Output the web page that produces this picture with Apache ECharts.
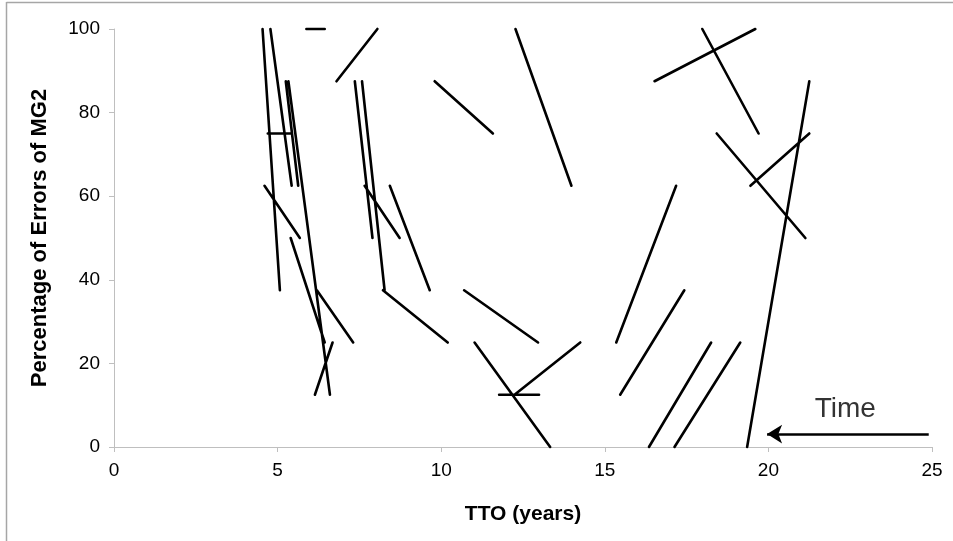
<!DOCTYPE html>
<html>
<head>
<meta charset="utf-8">
<script src="https://cdn.jsdelivr.net/npm/echarts@6/dist/echarts.min.js"></script>
<style>
  html, body { margin: 0; padding: 0; background: #fff; }
  #chart { width: 953px; height: 541px; }
</style>
</head>
<body>
<div id="chart"></div>
<script>
// Segment data (TTO years, % errors): start and end points
const startX = [4.54, 4.78, 5.25, 5.33, 4.70, 5.88, 6.80, 7.36, 7.58, 8.22, 4.60, 7.66, 8.43, 5.40, 6.20, 6.14,
                9.80, 12.27, 10.70, 11.02, 11.77, 12.24, 16.52, 17.98, 18.42, 19.45, 19.35, 15.35, 15.47, 16.35, 17.13];
const startY = [100, 100, 87.5, 87.5, 75, 100, 87.5, 87.5, 87.5, 37.5, 62.5, 62.5, 62.5, 50, 37.5, 12.5,
                87.5, 100, 37.5, 25, 12.5, 12.5, 87.5, 100, 75, 62.5, 0, 25, 12.5, 0, 0];
const endX   = [5.07, 5.43, 5.63, 6.60, 5.42, 6.44, 8.05, 7.90, 8.27, 10.20, 5.68, 8.73, 9.65, 6.44, 7.31, 6.68,
                11.58, 13.98, 12.96, 13.33, 12.99, 14.25, 19.60, 19.70, 21.13, 21.25, 21.25, 17.18, 17.43, 18.25, 19.14];
const endY   = [37.5, 62.5, 62.5, 12.5, 75, 100, 100, 50, 37.5, 25, 50, 50, 37.5, 25, 25, 25,
                75, 62.5, 25, 0, 12.5, 25, 100, 75, 50, 75, 87.5, 62.5, 37.5, 25, 25];

// Annotation: "Time" arrow
const arrowFrom = [24.9, 3.1];
const arrowTo = [19.96, 3.1];
const arrowLabel = 'Time';
const arrowLabelPos = [22.35, 9.0];

const xTicks = { min: 0, max: 25, interval: 5 };
const yTicks = { min: 0, max: 100, interval: 20 };

const segData = [];
for (let i = 0; i < startX.length; i++) {
  segData.push([startX[i], startY[i]]);
  segData.push([endX[i], endY[i]]);
  segData.push('-');
}

const FONT = '"Liberation Sans", Arial, sans-serif';
const chart = echarts.init(document.getElementById('chart'), null, { renderer: 'canvas' });
chart.setOption({
  animation: false,
  backgroundColor: '#fff',
  grid: { left: 114, right: 21, top: 29, bottom: 94, containLabel: false },
  xAxis: {
    type: 'value', min: xTicks.min, max: xTicks.max, interval: xTicks.interval,
    name: 'TTO (years)', nameLocation: 'middle', nameGap: 57,
    nameTextStyle: { fontFamily: FONT, fontSize: 21, fontWeight: 'bold', color: '#000' },
    axisLine: { show: true, lineStyle: { color: '#bfbfbf', width: 1 } },
    axisTick: { show: true, length: 5, inside: false, lineStyle: { color: '#bfbfbf' } },
    axisLabel: { fontFamily: FONT, fontSize: 19, color: '#000', margin: 14 },
    splitLine: { show: false }
  },
  yAxis: {
    type: 'value', min: yTicks.min, max: yTicks.max, interval: yTicks.interval,
    name: 'Percentage of Errors of MG2', nameLocation: 'middle', nameGap: 63, nameRotate: 90,
    nameTextStyle: { fontFamily: FONT, fontSize: 22, fontWeight: 'bold', color: '#000' },
    axisLine: { show: true, lineStyle: { color: '#bfbfbf', width: 1 } },
    axisTick: { show: true, length: 5, inside: false, lineStyle: { color: '#bfbfbf' } },
    axisLabel: { fontFamily: FONT, fontSize: 19, color: '#000', margin: 14 },
    splitLine: { show: false }
  },
  graphic: [
    { type: 'line', shape: { x1: 6.5, y1: 2, x2: 6.5, y2: 541 }, style: { stroke: '#a6a6a6', lineWidth: 1.5 } },
    { type: 'line', shape: { x1: 6.5, y1: 2.5, x2: 953, y2: 2.5 }, style: { stroke: '#a6a6a6', lineWidth: 1.5 } }
  ],
  series: [
    {
      type: 'line',
      data: segData,
      connectNulls: false,
      symbol: 'none',
      clip: false,
      lineStyle: { color: '#000', width: 2.6, cap: 'round' },
      silent: true
    },
    {
      type: 'scatter',
      data: [arrowLabelPos],
      symbolSize: 0,
      label: { show: true, position: 'inside', formatter: arrowLabel, fontFamily: FONT, fontSize: 28, color: '#000' },
      markLine: {
        silent: true,
        symbol: ['none', 'arrow'],
        symbolSize: [14, 15],
        lineStyle: { color: '#000', width: 2.6, type: 'solid' },
        label: { show: false },
        data: [[{ coord: arrowFrom }, { coord: arrowTo }]]
      }
    }
  ]
});
</script>
</body>
</html>
